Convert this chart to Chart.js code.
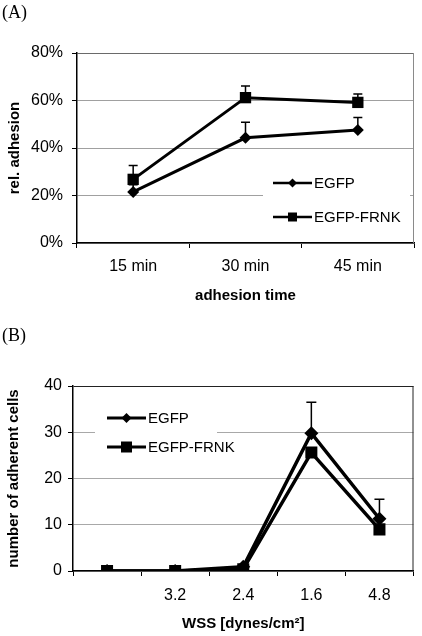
<!DOCTYPE html>
<html>
<head>
<meta charset="utf-8">
<script src="https://cdn.jsdelivr.net/npm/chart.js@4.4.1/dist/chart.umd.min.js"></script>
<style>
  html, body { margin: 0; padding: 0; background: #fff; }
  body { width: 422px; height: 636px; position: relative; overflow: hidden; }
  canvas { position: absolute; left: 0; }
  #chartA { top: 0; }
  #chartB { top: 318px; }
  .panel { position: absolute; left: 2px; font-family: 'Liberation Serif', 'Times New Roman', serif; font-size: 18px; line-height: 20px; z-index: 2; }
</style>
</head>
<body>
<canvas id="chartA" width="422" height="318"></canvas>
<canvas id="chartB" width="422" height="318"></canvas>
<div class="panel" style="top:2px">(A)</div>
<div class="panel" style="top:325px">(B)</div>
<script>
// (A) relative adhesion over time, percent
const timeLabels = ['15 min', '30 min', '45 min']
const egfpAdhesion = [21.5, 44.3, 47.6]
const egfpAdhesionErr = [3, 6.5, 5.2]
const frnkAdhesion = [26.8, 61.2, 59.2]
const frnkAdhesionErr = [5.8, 4.9, 3.5]

// (B) adherent cells vs wall shear stress
const wssLabels = ['', '3.2', '2.4', '1.6', '4.8']
const egfpCells = [0, 0, 0.9, 29.8, 11.3]
const egfpCellsErr = [0, 0, 0, 6.7, 4.2]
const frnkCells = [0, 0, 0.4, 25.6, 9.0]
const frnkCellsErr = [0, 0, 0, 0, 0]

Chart.defaults.font.family = "'Liberation Sans', Arial, sans-serif"
Chart.defaults.color = '#000'

function marker(c, style, x, y, r) {
  c.beginPath()
  if (style === 'rectRot') {
    c.moveTo(x, y - r); c.lineTo(x + r, y); c.lineTo(x, y + r); c.lineTo(x - r, y)
  } else {
    c.rect(x - r, y - r, 2 * r, 2 * r)
  }
  c.closePath()
  c.fill()
}

// upper error bars, drawn under the markers
const errorBars = {
  id: 'errorBars',
  beforeDatasetsDraw(chart, args, opts) {
    const c = chart.ctx
    const y = chart.scales.y
    chart.data.datasets.forEach((ds, i) => {
      if (!ds.errors) return
      const meta = chart.getDatasetMeta(i)
      c.save()
      c.strokeStyle = '#000'
      c.lineWidth = opts.width
      meta.data.forEach((pt, j) => {
        const err = ds.errors[j]
        if (!err) return
        const top = y.getPixelForValue(ds.data[j] + err)
        c.beginPath()
        c.moveTo(pt.x, pt.y); c.lineTo(pt.x, top)
        c.moveTo(pt.x - opts.cap, top); c.lineTo(pt.x + opts.cap, top)
        c.stroke()
      })
      c.restore()
    })
  }
}

// right edge of the plot frame
const frame = {
  id: 'frame',
  beforeDatasetsDraw(chart, args, opts) {
    const { right, top, bottom } = chart.chartArea
    const c = chart.ctx
    c.save()
    c.strokeStyle = opts.color
    c.lineWidth = 1
    c.beginPath()
    c.moveTo(right - 0.5, top); c.lineTo(right - 0.5, bottom)
    c.stroke()
    c.restore()
  }
}

// legend box inside the plot, line + marker + label
const boxLegend = {
  id: 'boxLegend',
  afterDatasetsDraw(chart, args, o) {
    const c = chart.ctx
    c.save()
    c.fillStyle = '#fff'
    c.fillRect(o.box[0], o.box[1], o.box[2], o.box[3])
    chart.data.datasets.forEach((ds, i) => {
      const y = o.rows[i]
      c.strokeStyle = '#000'
      c.lineWidth = o.lineWidth
      c.beginPath(); c.moveTo(o.x, y); c.lineTo(o.x + o.len, y); c.stroke()
      c.fillStyle = '#000'
      marker(c, ds.pointStyle, o.x + o.len / 2, y, o.sizes[i])
      c.font = "15px 'Liberation Sans', Arial, sans-serif"
      c.textBaseline = 'middle'
      c.textAlign = 'left'
      c.fillText(ds.label, o.x + o.len + 2, y + 1)
    })
    c.restore()
  }
}

function series(label, data, errors, style, radius, width) {
  return {
    label: label,
    data: data,
    errors: errors,
    borderColor: '#000',
    backgroundColor: '#000',
    borderWidth: width,
    pointStyle: style,
    pointRadius: radius,
    pointHoverRadius: radius,
    pointBackgroundColor: '#000',
    pointBorderWidth: 0,
    tension: 0
  }
}

const tickFont = { size: 16 }
const titleFont = { size: 15, weight: 'bold' }

const ctxA = document.getElementById('chartA').getContext('2d')
let chartA = new Chart(ctxA, {
  type: 'line',
  data: {
    labels: timeLabels,
    datasets: [
      series('EGFP', egfpAdhesion, egfpAdhesionErr, 'rectRot', 6, 3),
      series('EGFP-FRNK', frnkAdhesion, frnkAdhesionErr, 'rect', 8, 3)
    ]
  },
  options: {
    responsive: false,
    animation: false,
    layout: { padding: { top: 53, right: 5, left: 0, bottom: 0 } },
    plugins: {
      legend: { display: false },
      tooltip: { enabled: false },
      errorBars: { width: 1.5, cap: 4.5 },
      frame: { color: '#8a8a8a' },
      boxLegend: { box: [263, 168, 147, 64], rows: [183, 217], x: 273, len: 39, lineWidth: 2.5, sizes: [4.5, 4.5] }
    },
    scales: {
      x: {
        offset: true,
        grid: { offset: true, drawOnChartArea: false, tickLength: 5, color: '#000', tickColor: '#000' },
        border: { color: '#000', width: 1.5 },
        ticks: { font: tickFont, padding: 9, maxRotation: 0 },
        title: { display: true, text: 'adhesion time', font: titleFont, padding: { top: 0, bottom: 13 } },
        afterFit(s) { s.height = 75 }
      },
      y: {
        min: 0,
        max: 80,
        ticks: { stepSize: 20, callback: v => v + '%', font: tickFont, padding: 9 },
        grid: { color: c => c.tick && c.tick.value === 80 ? '#6a6a6a' : '#a0a0a0', tickColor: '#000', tickLength: 5 },
        border: { color: '#000', width: 1.5 },
        title: { display: true, text: 'rel. adhesion', font: titleFont, padding: { top: 6, bottom: 0 } },
        afterFit(s) { s.width = 77 }
      }
    }
  },
  plugins: [errorBars, frame, boxLegend]
})

const ctxB = document.getElementById('chartB').getContext('2d')
let chartB = new Chart(ctxB, {
  type: 'line',
  data: {
    labels: wssLabels,
    datasets: [
      series('EGFP', egfpCells, egfpCellsErr, 'rectRot', 7, 3.5),
      series('EGFP-FRNK', frnkCells, frnkCellsErr, 'rect', 8.5, 3.5)
    ]
  },
  options: {
    responsive: false,
    animation: false,
    layout: { padding: { top: 68, right: 5, left: 0, bottom: 0 } },
    plugins: {
      legend: { display: false },
      tooltip: { enabled: false },
      errorBars: { width: 1.5, cap: 5 },
      frame: { color: '#222' },
      boxLegend: { box: [95, 82, 122, 66], rows: [100, 129], x: 107, len: 39, lineWidth: 3, sizes: [5, 5.5] }
    },
    scales: {
      x: {
        offset: true,
        grid: { offset: true, drawOnChartArea: false, tickLength: 5, color: '#000', tickColor: '#000' },
        border: { color: '#000', width: 1.5 },
        ticks: { font: tickFont, padding: 10, maxRotation: 0, autoSkip: false },
        title: { display: true, text: 'WSS [dynes/cm²]', font: titleFont, padding: { top: 0, bottom: 3 } },
        afterFit(s) { s.height = 65 }
      },
      y: {
        min: 0,
        max: 40,
        ticks: { stepSize: 10, font: tickFont, padding: 6 },
        grid: { color: c => c.tick && c.tick.value === 40 ? '#222' : '#a8a8a8', tickColor: '#000', tickLength: 5 },
        border: { color: '#000', width: 1.5 },
        title: { display: true, text: 'number of adherent cells', font: titleFont, padding: { top: 5, bottom: 0 } },
        afterFit(s) { s.width = 73 }
      }
    }
  },
  plugins: [errorBars, frame, boxLegend]
})
</script>
</body>
</html>
